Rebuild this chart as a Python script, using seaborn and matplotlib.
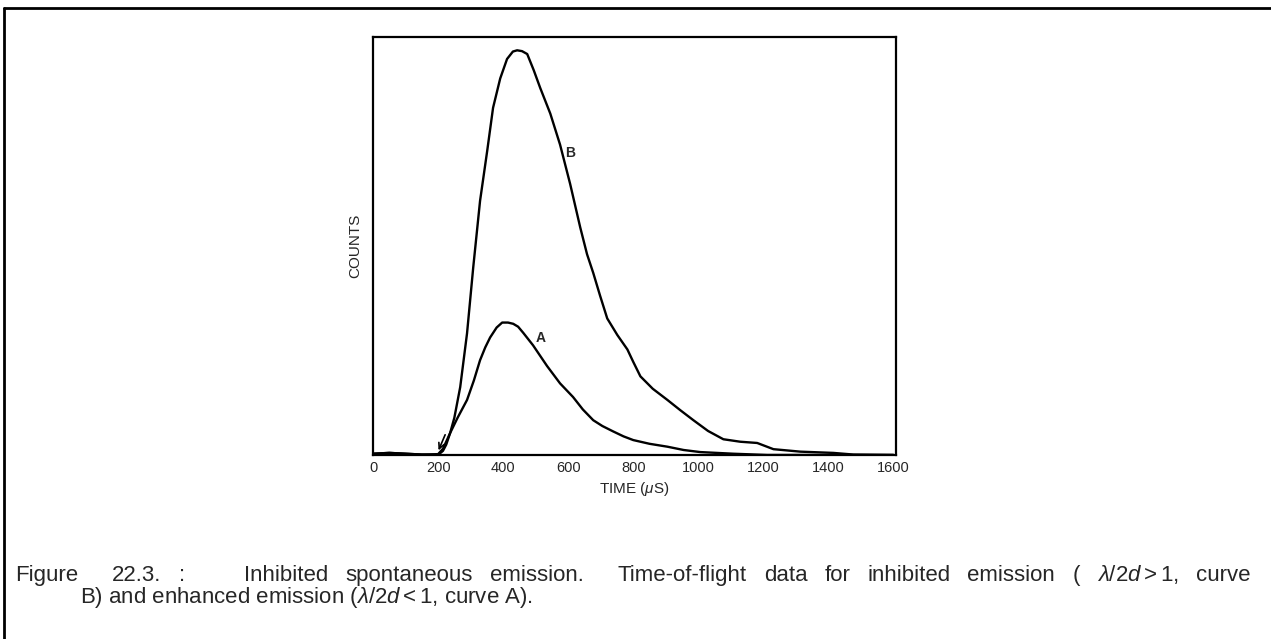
import numpy as np
import pandas as pd
import matplotlib
matplotlib.use("Agg")
import matplotlib.pyplot as plt
import seaborn as sns
from matplotlib.lines import Line2D

sns.set_style("white")
plt.rcParams['font.family'] = ['Liberation Sans', 'DejaVu Sans']
plt.rcParams['mathtext.fontset'] = 'custom'
plt.rcParams['mathtext.rm'] = 'Liberation Sans'
plt.rcParams['mathtext.it'] = 'Liberation Sans:italic'

# curve B (inhibited emission)
time_b = [0, 50, 100, 150, 200, 215, 225, 237, 250, 268, 289, 308, 329, 351, 369, 391, 412,
          430, 443, 458, 474, 494, 514, 545, 575, 606, 637, 658, 677, 698, 720, 751, 782,
          800, 822, 860, 905, 945, 985, 1030, 1077, 1129, 1181, 1231, 1314, 1415, 1477, 1600]
counts_b = [0.03, 0.05, 0.03, 0.01, 0.0, 0.1, 0.25, 0.53, 0.9, 1.64, 2.94, 4.53, 6.14, 7.35, 8.39, 9.1, 9.57,
            9.75, 9.78, 9.76, 9.69, 9.3, 8.87, 8.25, 7.5, 6.55, 5.5, 4.85, 4.4, 3.85, 3.3, 2.9, 2.55,
            2.25, 1.9, 1.6, 1.33, 1.08, 0.84, 0.58, 0.38, 0.32, 0.29, 0.14, 0.08, 0.05, 0.01, 0.0]

# curve A (enhanced emission)
time_a = [0, 50, 100, 150, 200, 215, 237, 260, 289, 310, 329, 345, 360, 380, 397, 415, 431,
          446, 462, 492, 535, 575, 615, 645, 677, 705, 738, 770, 800, 850, 905, 955, 1006,
          1108, 1212, 1600]
counts_a = [0.03, 0.05, 0.03, 0.01, 0.02, 0.15, 0.53, 0.9, 1.33, 1.8, 2.29, 2.6, 2.84, 3.08, 3.2, 3.2, 3.17,
            3.1, 2.95, 2.65, 2.15, 1.73, 1.4, 1.1, 0.84, 0.7, 0.57, 0.45, 0.36, 0.27, 0.2, 0.12, 0.07,
            0.03, 0.0, 0.0]

x_major = [0, 200, 400, 600, 800, 1000, 1200, 1400, 1600]
x_minor = [100, 300, 500, 700, 900, 1100, 1300, 1500]
y_ticks = [1, 2, 3, 4, 5, 6, 7, 8, 9]

# caption words; the first line is justified across the page
caption_words = ['Figure', '22.3.', ':', 'Inhibited', 'spontaneous', 'emission.', 'Time-of-flight',
                 'data', 'for', 'inhibited', 'emission', '(', r'$\lambda/2d > 1$,', 'curve']
caption_gaps = [2, 1, 3.5, 1, 1, 2, 1, 1, 1, 1, 1, 1, 1]
caption_line2 = r'B) and enhanced emission ($\lambda/2d < 1$, curve A).'

df_b = pd.DataFrame({'time': time_b, 'counts': counts_b})
df_a = pd.DataFrame({'time': time_a, 'counts': counts_a})

W, H = 1271, 639
fig = plt.figure(figsize=(W / 100, H / 100), dpi=100)
ax = fig.add_axes([0.2935, 0.288, 0.4115, 0.654])

sns.lineplot(data=df_b, x='time', y='counts', ax=ax, color='black', lw=1.7)
sns.lineplot(data=df_a, x='time', y='counts', ax=ax, color='black', lw=1.7)

ax.set_xlim(0, 1608)
ax.set_ylim(0, 10.1)
ax.set_xticks(x_major)
ax.set_xticklabels([str(v) for v in x_major])
ax.set_xticks(x_minor, minor=True)
ax.set_yticks(y_ticks)
ax.set_yticklabels([])
ax.tick_params(axis='both', which='both', direction='in', color='black')
ax.tick_params(axis='x', which='major', length=7, width=1, labelsize=10.5, pad=4)
ax.tick_params(axis='x', which='minor', length=5, width=1)
ax.tick_params(axis='y', which='major', length=6, width=1)
for s in ax.spines.values():
    s.set_color('black')
    s.set_linewidth(1.6)

ax.set_xlabel(r'TIME ($\mu$S)', fontsize=11, labelpad=4)
ax.set_ylabel('COUNTS', fontsize=11, labelpad=4)

ax.text(606, 7.3, 'B', fontsize=10, fontweight='bold', ha='center', va='center')
ax.text(514, 2.82, 'A', fontsize=10, fontweight='bold', ha='center', va='center')
ax.annotate('', xy=(198, 0.05), xytext=(225, 0.55),
            arrowprops=dict(arrowstyle='->', color='black', lw=1.2))

# caption
fs = 16
cap_y1 = 1 - 581 / H
cap_y2 = 1 - 603 / H
x_left, x_right = 15, 1250
renderer = fig.canvas.get_renderer()
texts = [fig.text(0, cap_y1, w, fontsize=fs, ha='left', va='baseline') for w in caption_words]
widths = [t.get_window_extent(renderer).width for t in texts]
unit = (x_right - x_left - sum(widths)) / sum(caption_gaps)
x = x_left
for i, t in enumerate(texts):
    t.set_x(x / W)
    x += widths[i]
    if i < len(caption_gaps):
        x += caption_gaps[i] * unit
fig.text(80 / W, cap_y2, caption_line2, fontsize=fs, ha='left', va='baseline')

# page frame (top and left edges)
fig.add_artist(Line2D([0.003, 0.003], [0.0, 0.988], transform=fig.transFigure, color='black', lw=2))
fig.add_artist(Line2D([0.003, 1.0], [0.988, 0.988], transform=fig.transFigure, color='black', lw=2))

fig.savefig('out.png', dpi=100)
plt.close(fig)
